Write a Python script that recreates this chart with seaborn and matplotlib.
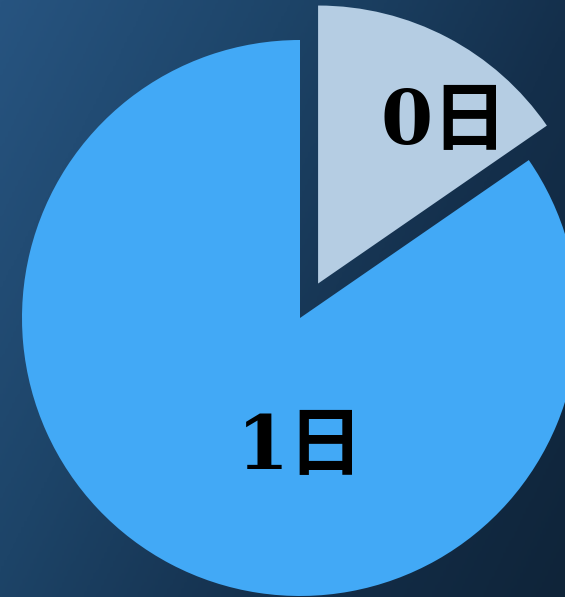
import numpy as np
import matplotlib
matplotlib.use("Agg")
import matplotlib.pyplot as plt
from matplotlib.colors import LinearSegmentedColormap
import seaborn as sns

# data
categories = ["0日", "1日"]
values = [2, 11]
colors = ["#b5cde3", "#42a9f6"]
explode = [0.14, 0.0]

sns.set_theme(style="white")
plt.rcParams['font.family'] = ['DejaVu Serif', 'Noto Sans CJK SC']

fig = plt.figure(figsize=(5.65, 5.97), dpi=100)

# dark blue background (smooth gradient)
bg = fig.add_axes([0, 0, 1, 1], zorder=0)
bg.set_axis_off()
yy, xx = np.mgrid[0:1:200j, 0:1:200j]
grad = 0.65 * xx + 0.35 * yy
cmap = LinearSegmentedColormap.from_list("bg", ["#275480", "#1d4468", "#142f4b", "#0f2439"])
bg.imshow(grad, cmap=cmap, aspect="auto", extent=[0, 1, 0, 1], origin="upper")

ax = fig.add_axes([0, 0, 1, 1], zorder=1)
ax.patch.set_alpha(0)
wedges, _ = ax.pie(values, colors=colors, explode=explode, startangle=90,
                   counterclock=False, radius=1.0,
                   wedgeprops=dict(linewidth=0))

R = 278.0
cx, cy = 300.0, 318.0
ax.set_xlim(-cx / R, (565 - cx) / R)
ax.set_ylim(-(597 - cy) / R, cy / R)
ax.set_aspect("equal")
ax.set_axis_off()

# label positions relative to each wedge centre
label_offsets = [(0.452, 0.574), (0.003, -0.468)]
for w, lab, (dx, dy) in zip(wedges, categories, label_offsets):
    c = w.center
    ax.text(c[0] + dx, c[1] + dy, lab, ha="center", va="center",
            fontsize=54, fontweight="bold", color="black")

fig.savefig("out.png", dpi=100)
